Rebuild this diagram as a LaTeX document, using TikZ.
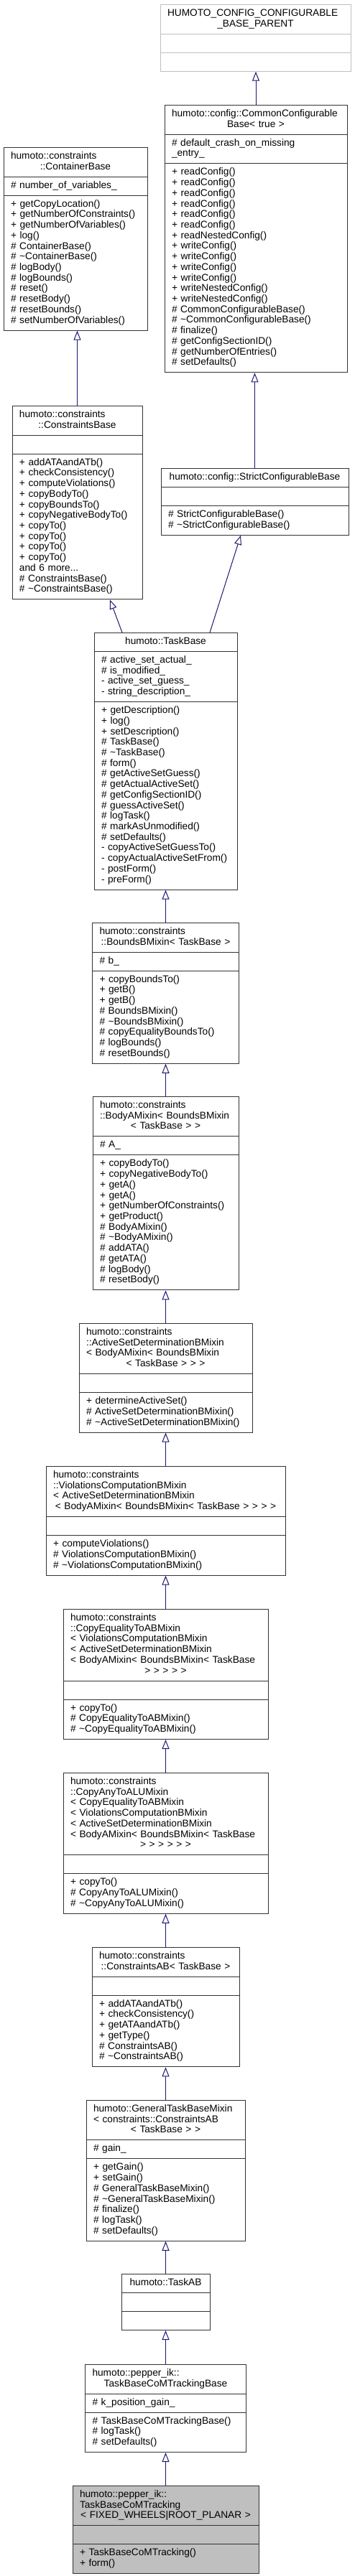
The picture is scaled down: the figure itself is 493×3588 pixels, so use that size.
\documentclass[tikz,border=0pt]{standalone}
\usepackage{fontspec}
\setmainfont{Liberation Sans}
\usetikzlibrary{shapes.multipart, arrows.meta, positioning}
\definecolor{edgeblue}{RGB}{25,25,112}
\definecolor{extgray}{RGB}{191,191,191}
\definecolor{focusgray}{RGB}{191,191,191}
\newcommand\lrow[1]{\hbox to\hsize{\strut\smash{#1}\hss}\par}
\newcommand\crow[1]{\hbox to\hsize{\strut\hss\smash{#1}\hss}\par}
\tikzset{
  hm class/.style={
    rectangle split, rectangle split parts=3,
    draw=black!80, line width=1pt, fill=white, anchor=north,
    text width=#1, inner xsep=10pt, inner ysep=5.14pt,
    font=\fontsize{13.7}{14.72}\selectfont
  },
  hm parent/.style={
    hm class=#1, draw=extgray
  },
  hm focus/.style={
    hm class=#1, fill=focusgray
  },
  hm arrow/.style={
    -{Triangle[length=13pt, width=10pt, fill=white]},
    line width=1pt, draw=edgeblue
  }
}

\begin{document}
\begin{tikzpicture}[x=1pt, y=-1pt]
  \useasboundingbox (0,0) rectangle (493,3588);

  % top row: configuration and container bases
  \node (cfgparent) [hm parent=245pt] at (355.5,6)
    {\lrow{HUMOTO\_CONFIG\_CONFIGURABLE}\crow{\_BASE\_PARENT}
     \nodepart{second}\lrow{}
     \nodepart{third}\lrow{}};
  \node (commoncfg) [hm class=234pt] at (356,146)
    {\lrow{humoto::config::CommonConfigurable}\crow{Base< true >}
     \nodepart{second}\lrow{\# default\_crash\_on\_missing}\lrow{\_entry\_}
     \nodepart{third}\lrow{+ readConfig()}\lrow{+ readConfig()}\lrow{+ readConfig()}
     \lrow{+ readConfig()}\lrow{+ readConfig()}\lrow{+ readConfig()}
     \lrow{+ readNestedConfig()}\lrow{+ writeConfig()}\lrow{+ writeConfig()}
     \lrow{+ writeConfig()}\lrow{+ writeConfig()}\lrow{+ writeNestedConfig()}
     \lrow{+ writeNestedConfig()}\lrow{\# CommonConfigurableBase()}
     \lrow{\# \textasciitilde CommonConfigurableBase()}\lrow{\# finalize()}
     \lrow{\# getConfigSectionID()}\lrow{\# getNumberOfEntries()}\lrow{\# setDefaults()}};
  \node (container) [hm class=180pt] at (105,205)
    {\lrow{humoto::constraints}\crow{::ContainerBase}
     \nodepart{second}\lrow{\# number\_of\_variables\_}
     \nodepart{third}\lrow{+ getCopyLocation()}\lrow{+ getNumberOfConstraints()}
     \lrow{+ getNumberOfVariables()}\lrow{+ log()}\lrow{\# ContainerBase()}
     \lrow{\# \textasciitilde ContainerBase()}\lrow{\# logBody()}\lrow{\# logBounds()}
     \lrow{\# reset()}\lrow{\# resetBody()}\lrow{\# resetBounds()}
     \lrow{\# setNumberOfVariables()}};
  \node (cbase) [hm class=161pt] at (107.5,565)
    {\lrow{humoto::constraints}\crow{::ConstraintsBase}
     \nodepart{second}\lrow{}
     \nodepart{third}\lrow{+ addATAandATb()}\lrow{+ checkConsistency()}
     \lrow{+ computeViolations()}\lrow{+ copyBodyTo()}\lrow{+ copyBoundsTo()}
     \lrow{+ copyNegativeBodyTo()}\lrow{+ copyTo()}\lrow{+ copyTo()}\lrow{+ copyTo()}
     \lrow{+ copyTo()}\lrow{and 6 more...}\lrow{\# ConstraintsBase()}
     \lrow{\# \textasciitilde ConstraintsBase()}};
  \node (strictcfg) [hm class=241pt] at (354.5,652)
    {\crow{humoto::config::StrictConfigurableBase}
     \nodepart{second}\lrow{}
     \nodepart{third}\lrow{\# StrictConfigurableBase()}
     \lrow{\# \textasciitilde StrictConfigurableBase()}};

  % main chain
  \node (taskbase) [hm class=179pt] at (230.5,881)
    {\crow{humoto::TaskBase}
     \nodepart{second}\lrow{\# active\_set\_actual\_}\lrow{\# is\_modified\_}
     \lrow{- active\_set\_guess\_}\lrow{- string\_description\_}
     \nodepart{third}\lrow{+ getDescription()}\lrow{+ log()}\lrow{+ setDescription()}
     \lrow{\# TaskBase()}\lrow{\# \textasciitilde TaskBase()}\lrow{\# form()}
     \lrow{\# getActiveSetGuess()}\lrow{\# getActualActiveSet()}
     \lrow{\# getConfigSectionID()}\lrow{\# guessActiveSet()}\lrow{\# logTask()}
     \lrow{\# markAsUnmodified()}\lrow{\# setDefaults()}\lrow{- copyActiveSetGuessTo()}
     \lrow{- copyActualActiveSetFrom()}\lrow{- postForm()}\lrow{- preForm()}};
  \node (boundsb) [hm class=184pt] at (230.5,1285)
    {\lrow{humoto::constraints}\crow{::BoundsBMixin< TaskBase >}
     \nodepart{second}\lrow{\# b\_}
     \nodepart{third}\lrow{+ copyBoundsTo()}\lrow{+ getB()}\lrow{+ getB()}
     \lrow{\# BoundsBMixin()}\lrow{\# \textasciitilde BoundsBMixin()}
     \lrow{\# copyEqualityBoundsTo()}\lrow{\# logBounds()}\lrow{\# resetBounds()}};
  \node (bodya) [hm class=183pt] at (230.5,1527)
    {\lrow{humoto::constraints}\lrow{::BodyAMixin< BoundsBMixin}\crow{< TaskBase > >}
     \nodepart{second}\lrow{\# A\_}
     \nodepart{third}\lrow{+ copyBodyTo()}\lrow{+ copyNegativeBodyTo()}\lrow{+ getA()}
     \lrow{+ getA()}\lrow{+ getNumberOfConstraints()}\lrow{+ getProduct()}
     \lrow{\# BodyAMixin()}\lrow{\# \textasciitilde BodyAMixin()}\lrow{\# addATA()}
     \lrow{\# getATA()}\lrow{\# logBody()}\lrow{\# resetBody()}};
  \node (activeset) [hm class=221pt] at (230.5,1843)
    {\lrow{humoto::constraints}\lrow{::ActiveSetDeterminationBMixin}
     \lrow{< BodyAMixin< BoundsBMixin}\crow{< TaskBase > > >}
     \nodepart{second}\lrow{}
     \nodepart{third}\lrow{+ determineActiveSet()}\lrow{\# ActiveSetDeterminationBMixin()}
     \lrow{\# \textasciitilde ActiveSetDeterminationBMixin()}};
  \node (violations) [hm class=313pt] at (230.5,2042)
    {\lrow{humoto::constraints}\lrow{::ViolationsComputationBMixin}
     \lrow{< ActiveSetDeterminationBMixin}\crow{< BodyAMixin< BoundsBMixin< TaskBase > > > >}
     \nodepart{second}\lrow{}
     \nodepart{third}\lrow{+ computeViolations()}\lrow{\# ViolationsComputationBMixin()}
     \lrow{\# \textasciitilde ViolationsComputationBMixin()}};
  \node (copyeq) [hm class=265pt] at (230.5,2241)
    {\lrow{humoto::constraints}\lrow{::CopyEqualityToABMixin}
     \lrow{< ViolationsComputationBMixin}\lrow{< ActiveSetDeterminationBMixin}
     \lrow{< BodyAMixin< BoundsBMixin< TaskBase}\crow{> > > > >}
     \nodepart{second}\lrow{}
     \nodepart{third}\lrow{+ copyTo()}\lrow{\# CopyEqualityToABMixin()}
     \lrow{\# \textasciitilde CopyEqualityToABMixin()}};
  \node (copyany) [hm class=265pt] at (230.5,2469)
    {\lrow{humoto::constraints}\lrow{::CopyAnyToALUMixin}\lrow{< CopyEqualityToABMixin}
     \lrow{< ViolationsComputationBMixin}\lrow{< ActiveSetDeterminationBMixin}
     \lrow{< BodyAMixin< BoundsBMixin< TaskBase}\crow{> > > > > >}
     \nodepart{second}\lrow{}
     \nodepart{third}\lrow{+ copyTo()}\lrow{\# CopyAnyToALUMixin()}
     \lrow{\# \textasciitilde CopyAnyToALUMixin()}};
  \node (constrab) [hm class=185pt] at (230.5,2712)
    {\lrow{humoto::constraints}\crow{::ConstraintsAB< TaskBase >}
     \nodepart{second}\lrow{}
     \nodepart{third}\lrow{+ addATAandATb()}\lrow{+ checkConsistency()}
     \lrow{+ getATAandATb()}\lrow{+ getType()}\lrow{\# ConstraintsAB()}
     \lrow{\# \textasciitilde ConstraintsAB()}};
  \node (generaltask) [hm class=201pt] at (230.5,2925)
    {\lrow{humoto::GeneralTaskBaseMixin}\lrow{< constraints::ConstraintsAB}
     \crow{< TaskBase > >}
     \nodepart{second}\lrow{\# gain\_}
     \nodepart{third}\lrow{+ getGain()}\lrow{+ setGain()}\lrow{\# GeneralTaskBaseMixin()}
     \lrow{\# \textasciitilde GeneralTaskBaseMixin()}\lrow{\# finalize()}\lrow{\# logTask()}
     \lrow{\# setDefaults()}};
  \node (taskab) [hm class=103pt] at (230.5,3167)
    {\crow{humoto::TaskAB}
     \nodepart{second}\lrow{}
     \nodepart{third}\lrow{}};
  \node (comtrackbase) [hm class=204pt] at (230.5,3293)
    {\lrow{humoto::pepper\_ik::}\crow{TaskBaseCoMTrackingBase}
     \nodepart{second}\lrow{\# k\_position\_gain\_}
     \nodepart{third}\lrow{\# TaskBaseCoMTrackingBase()}\lrow{\# logTask()}
     \lrow{\# setDefaults()}};
  \node (comtrack) [hm focus=239pt] at (230.5,3462)
    {\lrow{humoto::pepper\_ik::}\lrow{TaskBaseCoMTracking}
     \crow{< FIXED\_WHEELS|ROOT\_PLANAR >}
     \nodepart{second}\lrow{}
     \nodepart{third}\lrow{+ TaskBaseCoMTracking()}\lrow{+ form()}};

  % inheritance
  \draw [hm arrow] (commoncfg.north) -- (commoncfg.north |- cfgparent.south);
  \draw [hm arrow] (strictcfg.north) -- (strictcfg.north |- commoncfg.south);
  \draw [hm arrow] (cbase.north) -- (cbase.north |- container.south);
  \draw [hm arrow] ([xshift=-60.5pt]taskbase.north) -- ([xshift=45.5pt]cbase.south);
  \draw [hm arrow] ([xshift=61.5pt]taskbase.north) -- ([xshift=-19.5pt]strictcfg.south);
  \draw [hm arrow] (boundsb) -- (taskbase);
  \draw [hm arrow] (bodya) -- (boundsb);
  \draw [hm arrow] (activeset) -- (bodya);
  \draw [hm arrow] (violations) -- (activeset);
  \draw [hm arrow] (copyeq) -- (violations);
  \draw [hm arrow] (copyany) -- (copyeq);
  \draw [hm arrow] (constrab) -- (copyany);
  \draw [hm arrow] (generaltask) -- (constrab);
  \draw [hm arrow] (taskab) -- (generaltask);
  \draw [hm arrow] (comtrackbase) -- (taskab);
  \draw [hm arrow] (comtrack) -- (comtrackbase);
\end{tikzpicture}
\end{document}
